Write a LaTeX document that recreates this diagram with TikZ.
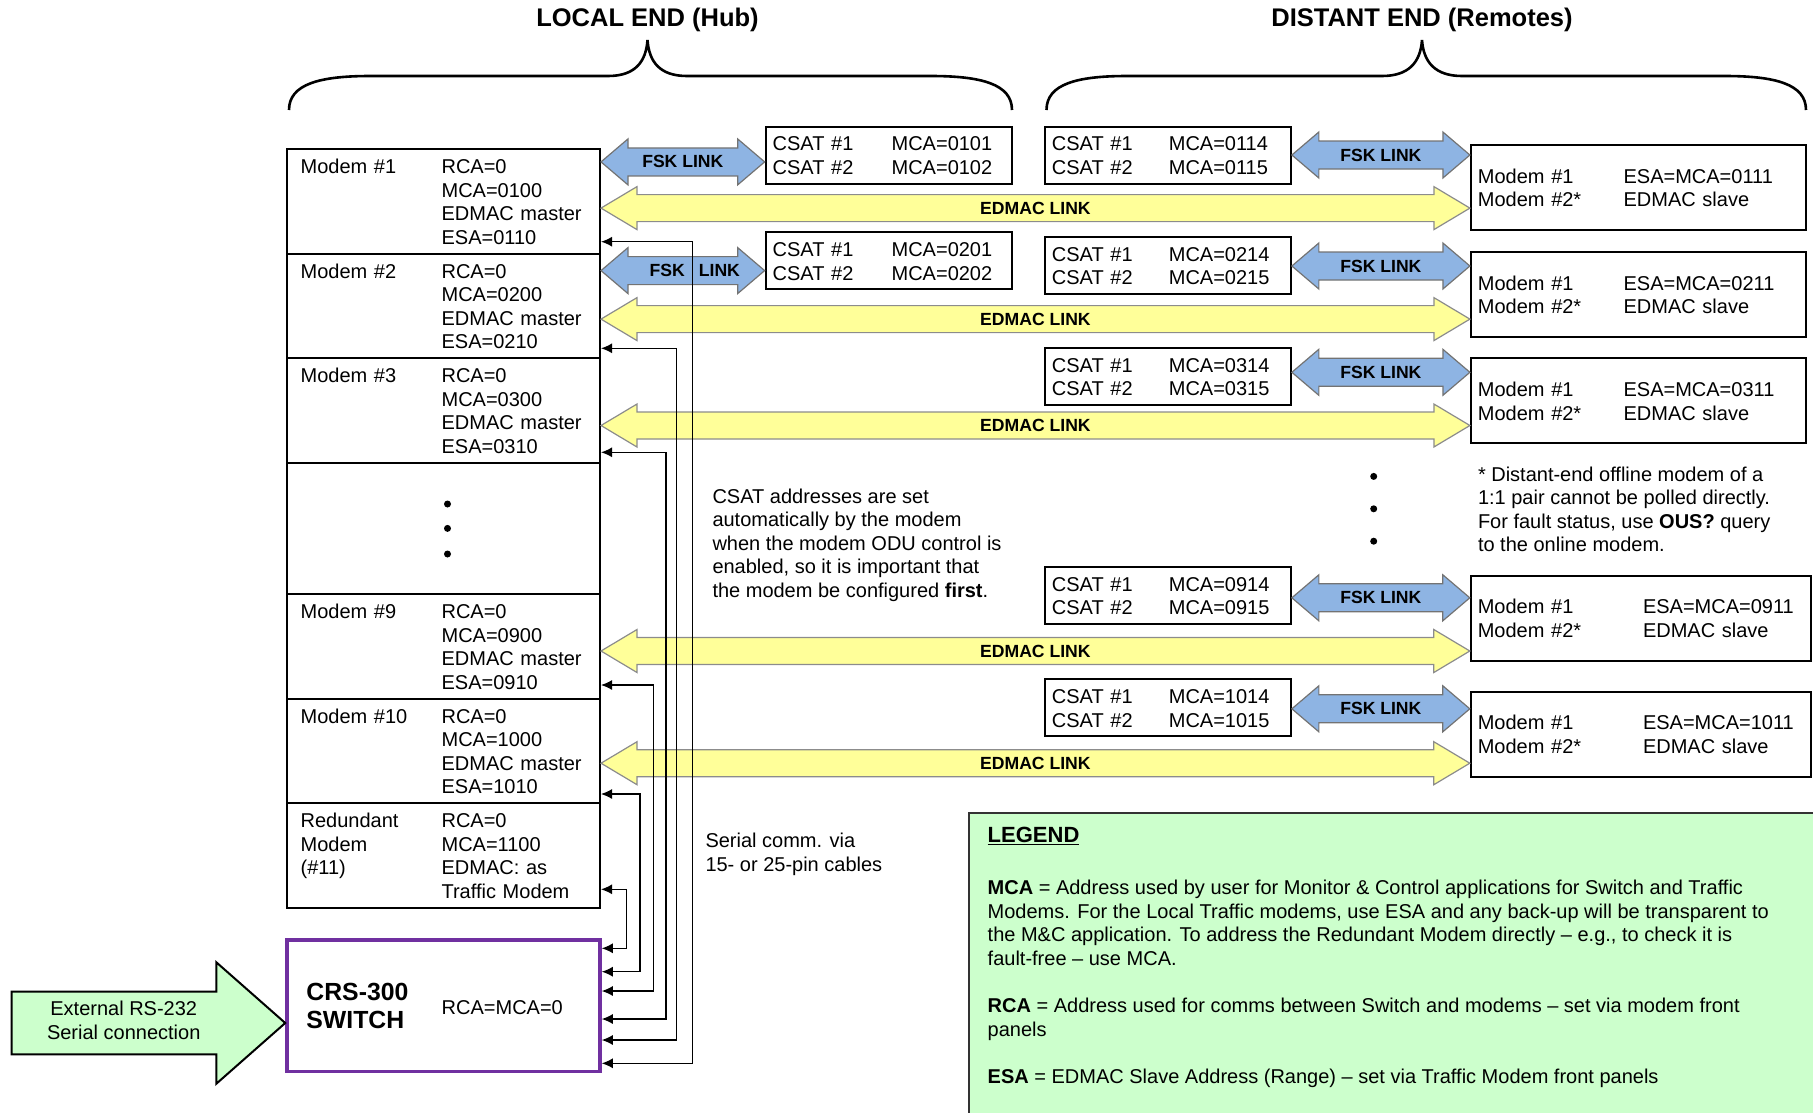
\documentclass[tikz,border=0pt]{standalone}
\usepackage{fontspec}
\setmainfont{Liberation Sans}
\usepackage{array}
\usetikzlibrary{calc,arrows.meta}

\definecolor{fskblue}{HTML}{8EB4E3}
\definecolor{edmacyellow}{HTML}{FFFF99}
\definecolor{legendgreen}{HTML}{CCFFCC}
\definecolor{switchpurple}{HTML}{7030A0}

% two aligned text columns inside a box
\newcommand{\twocol}[2]{\begin{tabular}{@{}p{#1}@{}l@{}}#2\\[-6pt]\end{tabular}}
% fat double-headed link between two points at the height of the first one
\newcommand{\fatlink}[8]{%
  \draw[#1] let \p1=(#2), \p2=(#3) in
    (\x1,\y1) -- (\x1+#4,\y1+#5) -- (\x1+#4,\y1+#6) -- (\x2-#4,\y1+#6)
    -- (\x2-#4,\y1+#5) -- (\x2,\y1) -- (\x2-#4,\y1-#5) -- (\x2-#4,\y1-#6)
    -- (\x1+#4,\y1-#6) -- (\x1+#4,\y1-#5) -- cycle
    (\x1/2+\x2/2,\y1) node[linklabel,#7] {#8};}
\newcommand{\fsklink}[5][]{\fatlink{fsk}{#3}{#4}{27pt}{23pt}{14pt}{name=#2,#1}{#5}}
\newcommand{\edmaclink}[5][]{\fatlink{edmac}{#3}{#4}{36pt}{21.5pt}{13.5pt}{name=#2,#1}{#5}}

\begin{document}
\begin{tikzpicture}[x=1pt, y=-1pt,
        font=\fontsize{20}{23.5}\selectfont,
        hubmodem/.style={draw, line width=2pt, text width=285.8pt, inner xsep=13.6pt, inner ysep=2pt, minimum height=104.5pt, align=left},
        csatbox/.style={draw, line width=2pt, text width=232pt, inner xsep=7pt, inner ysep=2pt, minimum height=57pt, align=left},
        remotemodem/.style={draw, line width=2pt, text width=321pt, inner xsep=7pt, inner ysep=2pt, minimum height=85pt, align=left},
        switchbox/.style={draw=switchpurple, line width=3.5pt, text width=274.2pt, inner xsep=19.4pt, inner ysep=2pt, minimum height=131.7pt, align=left},
        fsk/.style={draw=black!55, fill=fskblue, line width=1.2pt},
        edmac/.style={draw=black!45, fill=edmacyellow, line width=1.2pt},
        linklabel/.style={font=\bfseries\fontsize{17.6}{20}\selectfont, inner sep=0pt},
        wire/.style={<->, >={Latex[length=11pt,width=10pt]}, line width=1.3pt},
        titletext/.style={font=\bfseries\fontsize{25.5}{30}\selectfont},
        bracepath/.style={line width=2.6pt},
        notetext/.style={align=left, inner sep=0pt, anchor=north west},
        extarrow/.style={draw, fill=legendgreen, line width=2pt},
        legendbox/.style={draw=black!80, fill=legendgreen, line width=1.5pt}
    ]
        \useasboundingbox (0,0) rectangle (1813,1112);

        % headings
        \node[titletext] (hubtitle) at (647.5,20) {LOCAL END (Hub)};
        \node[titletext] (remotetitle) at (1422,20) {DISTANT END (Remotes)};
        \draw[bracepath] (289,110) .. controls (289,84) and (320,76) .. (370,76) -- (608,76)
            .. controls (635,76) and (646,62) .. (647.5,40) .. controls (649,62) and (660,76) .. (687,76)
            -- (931,76) .. controls (981,76) and (1012,84) .. (1012,110);
        \draw[bracepath] (1046.5,110) .. controls (1046.5,84) and (1077,76) .. (1127,76) -- (1382,76)
            .. controls (1409,76) and (1420.5,62) .. (1422,40) .. controls (1423.5,62) and (1435,76) .. (1462,76)
            -- (1725,76) .. controls (1775,76) and (1806,84) .. (1806,110);

        % local end
        \node[hubmodem] (hm1) at (443.5,201.25) {\twocol{141pt}{Modem \#1 & RCA=0\\ & MCA=0100\\ & EDMAC master\\ & ESA=0110}};
        \node[hubmodem] (hm2) at (443.5,305.75) {\twocol{141pt}{Modem \#2 & RCA=0\\ & MCA=0200\\ & EDMAC master\\ & ESA=0210}};
        \node[hubmodem] (hm3) at (443.5,410.25) {\twocol{141pt}{Modem \#3 & RCA=0\\ & MCA=0300\\ & EDMAC master\\ & ESA=0310}};
        \node[hubmodem, minimum height=131.5pt] (hmdots) at (443.5,528.25) {};
        \node[hubmodem] (hm9) at (443.5,646.25) {\twocol{141pt}{Modem \#9 & RCA=0\\ & MCA=0900\\ & EDMAC master\\ & ESA=0910}};
        \node[hubmodem] (hm10) at (443.5,750.75) {\twocol{141pt}{Modem \#10 & RCA=0\\ & MCA=1000\\ & EDMAC master\\ & ESA=1010}};
        \node[hubmodem] (hm11) at (443.5,855.25) {\twocol{141pt}{Redundant & RCA=0\\ Modem & MCA=1100\\ (\#11) & EDMAC: as\\ & Traffic Modem}};
        \node[switchbox] (sw) at (443.5,1005.8) {\begin{tabular}{@{}m{135.3pt}@{}m{130pt}@{}}{\vspace*{23pt}\bfseries\fontsize{24.8}{27.7}\selectfont CRS-300\newline SWITCH\par} & RCA=MCA=0\\[-7pt]\end{tabular}};
        \fill (447.5,504) circle (3.5);
        \fill (447.5,528.4) circle (3.5);
        \fill (447.5,554) circle (3.5);

        \node[csatbox] (hc1) at (888.65,155) {\twocol{119pt}{CSAT \#1 & MCA=0101\\ CSAT \#2 & MCA=0102}};
        \node[csatbox] (hc2) at (888.65,260.7) {\twocol{119pt}{CSAT \#1 & MCA=0201\\ CSAT \#2 & MCA=0202}};

        % distant end
        \node[csatbox] (dc1) at (1167.85,155) {\twocol{117pt}{CSAT \#1 & MCA=0114\\ CSAT \#2 & MCA=0115}};
        \node[csatbox] (dc2) at (1167.85,265.4) {\twocol{117pt}{CSAT \#1 & MCA=0214\\ CSAT \#2 & MCA=0215}};
        \node[csatbox] (dc3) at (1167.85,376.4) {\twocol{117pt}{CSAT \#1 & MCA=0314\\ CSAT \#2 & MCA=0315}};
        \node[csatbox] (dc9) at (1167.85,595.5) {\twocol{117pt}{CSAT \#1 & MCA=0914\\ CSAT \#2 & MCA=0915}};
        \node[csatbox] (dc10) at (1167.85,707.7) {\twocol{117pt}{CSAT \#1 & MCA=1014\\ CSAT \#2 & MCA=1015}};

        \node[remotemodem] (dr1) at (1638.4,187.3) {\twocol{145.7pt}{Modem \#1 & ESA=MCA=0111\\ Modem \#2* & EDMAC slave}};
        \node[remotemodem] (dr2) at (1638.4,294.2) {\twocol{145.7pt}{Modem \#1 & ESA=MCA=0211\\ Modem \#2* & EDMAC slave}};
        \node[remotemodem] (dr3) at (1638.4,400.8) {\twocol{145.7pt}{Modem \#1 & ESA=MCA=0311\\ Modem \#2* & EDMAC slave}};
        \node[remotemodem, text width=326pt] (dr9) at (1640.8,618) {\twocol{165.2pt}{Modem \#1 & ESA=MCA=0911\\ Modem \#2* & EDMAC slave}};
        \node[remotemodem, text width=326pt] (dr10) at (1640.8,734) {\twocol{165.2pt}{Modem \#1 & ESA=MCA=1011\\ Modem \#2* & EDMAC slave}};
        \fill (1373.7,476.4) circle (3.5);
        \fill (1373.7,508.8) circle (3.5);
        \fill (1373.7,541.2) circle (3.5);

        % links
        \fsklink{fsk1}{hm1.east |- 0,161.9}{hc1.west |- 0,161.9}{FSK LINK}
        \fsklink[xshift=12pt]{fsk2}{hm2.east |- 0,270.6}{hc2.west |- 0,270.6}{FSK\hspace{14pt}LINK}
        \fsklink{rfsk1}{dc1.east |- 0,155}{dr1.west |- 0,155}{FSK LINK}
        \fsklink{rfsk2}{dc2.east |- 0,266}{dr2.west |- 0,266}{FSK LINK}
        \fsklink{rfsk3}{dc3.east |- 0,372.3}{dr3.west |- 0,372.3}{FSK LINK}
        \fsklink{rfsk9}{dc9.east |- 0,597.8}{dr9.west |- 0,597.8}{FSK LINK}
        \fsklink{rfsk10}{dc10.east |- 0,708.8}{dr10.west |- 0,708.8}{FSK LINK}
        \edmaclink{edmac1}{hm1.east |- 0,208.1}{dr1.west |- 0,208.1}{EDMAC LINK}
        \edmaclink{edmac2}{hm2.east |- 0,319.1}{dr2.west |- 0,319.1}{EDMAC LINK}
        \edmaclink{edmac3}{hm3.east |- 0,425.5}{dr3.west |- 0,425.5}{EDMAC LINK}
        \edmaclink{edmac9}{hm9.east |- 0,651}{dr9.west |- 0,651}{EDMAC LINK}
        \edmaclink{edmac10}{hm10.east |- 0,763.2}{dr10.west |- 0,763.2}{EDMAC LINK}

        % serial cables to the switch
        \draw[wire] (hm1.east |- 0,241.7) -| (692.7,1063.3) -- (sw.east |- 0,1063.3);
        \draw[wire] (hm2.east |- 0,348.3) -| (676.7,1040) -- (sw.east |- 0,1040);
        \draw[wire] (hm3.east |- 0,452.3) -| (666,1019) -- (sw.east |- 0,1019);
        \draw[wire] (hm9.east |- 0,685) -| (653.3,991) -- (sw.east |- 0,991);
        \draw[wire] (hm10.east |- 0,794) -| (640,971.7) -- (sw.east |- 0,971.7);
        \draw[wire] (hm11.east |- 0,889.3) -| (626.7,948.3) -- (sw.east |- 0,948.3);

        \draw[extarrow] let \p1=(sw.west |- 0,1023) in (\x1,\y1) -- (\x1-69pt,\y1+60.8pt)
            -- (\x1-69pt,\y1+31.3pt) -- (\x1-273.6pt,\y1+31.3pt) -- (\x1-273.6pt,\y1-31.3pt)
            -- (\x1-69pt,\y1-31.3pt) -- (\x1-69pt,\y1-60.8pt) -- cycle
            (\x1-161.5pt,\y1+2.5pt) node[align=center] (ext) {External RS-232\\Serial connection};

        % notes
        \node[notetext] (csatnote) at (712.3,488.6) {CSAT addresses are set\\automatically by the modem\\when the modem ODU control is\\enabled, so it is important that\\the modem be configured \textbf{first}.};
        \node[notetext] (offlinenote) at (1477.8,466.7) {* Distant-end offline modem of a\\1:1 pair cannot be polled directly.\\For fault status, use \textbf{OUS?} query\\to the online modem.};
        \node[notetext] (serialnote) at (705.3,833.2) {Serial comm. via\\15- or 25-pin cables};

        % legend
        \draw[legendbox] (969,813) rectangle (1825,1125);
        \node[notetext] (legend) at (987.5,827) {{\bfseries\fontsize{22}{23.5}\selectfont\underline{LEGEND}}\\[28.7pt]
            \textbf{MCA} = Address used by user for Monitor \& Control applications for Switch and Traffic\\
            Modems. For the Local Traffic modems, use ESA and any back-up will be transparent to\\
            the M\&C application. To address the Redundant Modem directly -- e.g., to check it is\\
            fault-free -- use MCA.\\[24pt]
            \textbf{RCA} = Address used for comms between Switch and modems -- set via modem front\\
            panels\\[23.5pt]
            \textbf{ESA} = EDMAC Slave Address (Range) -- set via Traffic Modem front panels};
\end{tikzpicture}
\end{document}
